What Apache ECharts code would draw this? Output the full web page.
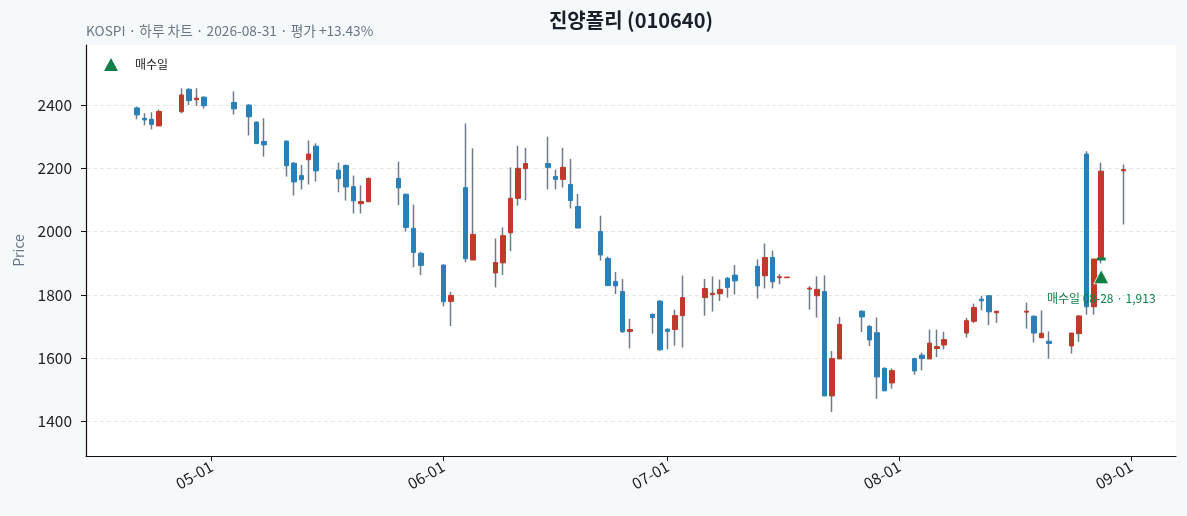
<!DOCTYPE html>
<html>
<head>
<meta charset="utf-8">
<script src="https://cdn.jsdelivr.net/npm/echarts@6/dist/echarts.min.js"></script>
<style>
  html, body { margin: 0; padding: 0; background: #f6f9fc; }
  #chart { width: 1187px; height: 516px; }
</style>
</head>
<body>
<div id="chart"></div>
<script>
// 일봉 데이터 (읽은 값)
var dates = [
  '2026-04-21', '2026-04-22', '2026-04-23', '2026-04-24', '2026-04-27', '2026-04-28', '2026-04-29', '2026-04-30',
  '2026-05-04', '2026-05-06', '2026-05-07', '2026-05-08', '2026-05-11', '2026-05-12', '2026-05-13', '2026-05-14',
  '2026-05-15', '2026-05-18', '2026-05-19', '2026-05-20', '2026-05-21', '2026-05-22', '2026-05-26', '2026-05-27',
  '2026-05-28', '2026-05-29', '2026-06-01', '2026-06-02', '2026-06-04', '2026-06-05', '2026-06-08', '2026-06-09',
  '2026-06-10', '2026-06-11', '2026-06-12', '2026-06-15', '2026-06-16', '2026-06-17', '2026-06-18', '2026-06-19',
  '2026-06-22', '2026-06-23', '2026-06-24', '2026-06-25', '2026-06-26', '2026-06-29', '2026-06-30', '2026-07-01',
  '2026-07-02', '2026-07-03', '2026-07-06', '2026-07-07', '2026-07-08', '2026-07-09', '2026-07-10', '2026-07-13',
  '2026-07-14', '2026-07-15', '2026-07-16', '2026-07-17', '2026-07-20', '2026-07-21', '2026-07-22', '2026-07-23',
  '2026-07-24', '2026-07-27', '2026-07-28', '2026-07-29', '2026-07-30', '2026-07-31', '2026-08-03', '2026-08-04',
  '2026-08-05', '2026-08-06', '2026-08-07', '2026-08-10', '2026-08-11', '2026-08-12', '2026-08-13', '2026-08-14',
  '2026-08-18', '2026-08-19', '2026-08-20', '2026-08-21', '2026-08-24', '2026-08-25', '2026-08-26', '2026-08-27',
  '2026-08-28', '2026-08-31'
];
var opens = [
  2391, 2358, 2355, 2334, 2379, 2450, 2417, 2425,
  2408, 2400, 2346, 2285, 2286, 2216, 2177, 2227,
  2270, 2194, 2209, 2142, 2088, 2094, 2168, 2118,
  2010, 1931, 1894, 1779, 2139, 1910, 1869, 1901,
  1996, 2105, 2199, 2215, 2174, 2165, 2149, 2079,
  2000, 1915, 1842, 1810, 1684, 1738, 1780, 1691,
  1690, 1734, 1791, 1800, 1803, 1852, 1862, 1890,
  1860, 1918, 1854, 1854, 1818, 1797, 1810, 1480,
  1597, 1748, 1700, 1680, 1567, 1521, 1598, 1609,
  1597, 1630, 1641, 1679, 1716, 1786, 1797, 1743,
  1745, 1732, 1664, 1653, 1638, 1677, 2245, 1762,
  1913, 2192
];
var closes = [
  2369, 2353, 2339, 2380, 2432, 2414, 2422, 2398,
  2388, 2363, 2278, 2274, 2208, 2157, 2164, 2245,
  2192, 2167, 2141, 2097, 2095, 2168, 2138, 2013,
  1934, 1893, 1778, 1798, 1914, 1991, 1902, 1987,
  2105, 2200, 2215, 2203, 2165, 2203, 2098, 2011,
  1926, 1829, 1828, 1683, 1690, 1728, 1626, 1684,
  1734, 1791, 1820, 1805, 1817, 1823, 1844, 1828,
  1918, 1841, 1857, 1856, 1821, 1817, 1480, 1598,
  1706, 1730, 1657, 1540, 1496, 1560, 1559, 1598,
  1647, 1636, 1658, 1718, 1760, 1781, 1746, 1748,
  1748, 1679, 1678, 1646, 1679, 1733, 1762, 1913,
  2191, 2196
];
var lows = [
  2355, 2336, 2323, 2334, 2374, 2400, 2397, 2389,
  2370, 2304, 2278, 2237, 2174, 2114, 2133, 2149,
  2158, 2124, 2098, 2057, 2057, 2094, 2084, 2000,
  1887, 1862, 1763, 1701, 1903, 1910, 1823, 1862,
  1938, 2082, 2099, 2133, 2133, 2139, 2073, 2011,
  1908, 1829, 1802, 1679, 1630, 1677, 1622, 1627,
  1639, 1633, 1734, 1747, 1780, 1791, 1801, 1788,
  1820, 1820, 1833, 1854, 1753, 1728, 1480, 1429,
  1597, 1682, 1638, 1471, 1496, 1503, 1547, 1561,
  1597, 1603, 1627, 1665, 1711, 1751, 1704, 1711,
  1693, 1649, 1664, 1598, 1614, 1651, 1737, 1737,
  1899, 2022
];
var highs = [
  2395, 2374, 2377, 2386, 2453, 2453, 2453, 2428,
  2443, 2403, 2349, 2358, 2288, 2220, 2211, 2288,
  2279, 2218, 2212, 2177, 2146, 2171, 2221, 2120,
  2085, 1936, 1896, 1809, 2342, 2263, 1978, 2013,
  2203, 2271, 2265, 2300, 2196, 2265, 2230, 2119,
  2050, 1921, 1872, 1850, 1724, 1741, 1783, 1694,
  1753, 1861, 1850, 1858, 1848, 1856, 1894, 1912,
  1962, 1940, 1865, 1856, 1827, 1858, 1861, 1622,
  1730, 1751, 1704, 1728, 1571, 1567, 1601, 1617,
  1690, 1690, 1683, 1727, 1772, 1797, 1797, 1748,
  1775, 1735, 1750, 1684, 1679, 1735, 2254, 1913,
  2218, 2212
];

// 매수 표시
var buyDate = '2026-08-28';
var buyPrice = 1913;
var buyMarkerY = 1857;

// 축 눈금
var yTicks = [1400, 1600, 1800, 2000, 2200, 2400];
var xTicks = ['2026-05-01', '2026-06-01', '2026-07-01', '2026-08-01', '2026-09-01'];

var titleText = '진양폴리 (010640)';
var subText = 'KOSPI · 하루 차트 · 2026-08-31 · 평가 +13.43%';

var FONT = 'Noto Sans CJK KR';
var UP = '#c0392b';
var DOWN = '#2980b9';
var WICK = '#6c7a89';
var GREEN = '#0e7f47';

function toTime(s) {
    var p = s.split('-');
    return new Date(+p[0], +p[1] - 1, +p[2]).getTime();
}
function pad(n) {
    return (n < 10 ? '0' : '') + n;
}

var wickData = [];
var bodyData = [];
for (var i = 0; i < dates.length; i++) {
    var t = toTime(dates[i]);
    wickData.push([t, opens[i], closes[i], lows[i], highs[i]]);
    bodyData.push([t, opens[i], closes[i], Math.min(opens[i], closes[i]), Math.max(opens[i], closes[i])]);
}

var xMin = toTime('2026-04-14') + 5 * 3600 * 1000;
var xMax = toTime('2026-09-07');

var chart = echarts.init(document.getElementById('chart'));
var option = {
    animation: false,
    backgroundColor: '#f6f9fc',
    textStyle: { fontFamily: FONT },
    graphic: [
        {
            type: 'text', x: 631, y: 10,
            style: { text: titleText, font: 'bold 20px "' + FONT + '"', fill: '#1b1f2a', align: 'center' }
        },
        {
            type: 'text', x: 86, y: 24,
            style: { text: subText, font: '13.7px "' + FONT + '"', fill: '#6b7685' }
        }
    ],
    grid: {
        left: 86, right: 11, top: 45, bottom: 60,
        show: true, backgroundColor: '#ffffff', borderWidth: 0
    },
    legend: {
        data: [{ name: '매수일', icon: 'triangle' }],
        left: 104, top: 58,
        padding: 0,
        itemWidth: 14, itemHeight: 13,
        itemStyle: { color: GREEN, borderWidth: 0 },
        textStyle: { fontFamily: FONT, fontSize: 12, color: '#222', padding: [0, 0, 0, 12] }
    },
    xAxis: {
        type: 'value',
        min: xMin,
        max: xMax,
        axisLine: { lineStyle: { color: '#111', width: 1.2 } },
        axisTick: { show: true, length: 5, lineStyle: { color: '#111' }, customValues: xTicks.map(toTime) },
        axisLabel: {
            customValues: xTicks.map(toTime),
            rotate: 30,
            fontSize: 15.5,
            color: '#222',
            margin: 9,
            formatter: function (v) {
                var d = new Date(v);
                return pad(d.getMonth() + 1) + '-' + pad(d.getDate());
            }
        },
        splitLine: { show: false }
    },
    yAxis: {
        type: 'value',
        min: 1290,
        max: 2590,
        name: 'Price',
        nameLocation: 'middle',
        nameGap: 60,
        nameTextStyle: { color: '#6b7685', fontSize: 14, fontFamily: FONT },
        axisLine: { show: true, lineStyle: { color: '#111', width: 1.2 } },
        axisTick: { show: true, length: 5, lineStyle: { color: '#111' }, customValues: yTicks },
        axisLabel: {
            customValues: yTicks, fontSize: 15.5, color: '#222', margin: 14,
            formatter: function (v) { return String(v); }
        },
        splitLine: { show: true, lineStyle: { color: '#e6e6e6', type: [4, 3], width: 1 } }
    },
    series: [
        {
            name: 'wick',
            type: 'candlestick',
            data: wickData,
            barWidth: 1,
            itemStyle: {
                color: WICK, color0: WICK,
                borderColor: WICK, borderColor0: WICK,
                borderWidth: 1.5
            },
            z: 2
        },
        {
            name: 'body',
            type: 'candlestick',
            data: bodyData,
            barWidth: 5,
            itemStyle: {
                color: UP, color0: DOWN,
                borderColor: UP, borderColor0: DOWN,
                borderWidth: 1
            },
            z: 3
        },
        {
            name: 'buyLevel',
            type: 'scatter',
            data: [[toTime(buyDate), buyPrice]],
            symbol: 'rect',
            symbolSize: [9, 3],
            itemStyle: { color: GREEN, opacity: 1 },
            z: 4
        },
        {
            name: '매수일',
            type: 'scatter',
            data: [[toTime(buyDate), buyMarkerY]],
            symbol: 'triangle',
            symbolSize: [15, 14],
            itemStyle: { color: GREEN, opacity: 1, borderColor: '#ffffff', borderWidth: 0.8 },
            label: {
                show: true,
                position: 'bottom',
                distance: 8,
                fontSize: 12,
                color: GREEN,
                fontFamily: FONT,
                formatter: function () {
                    return '매수일 ' + buyDate.slice(5) + ' · ' + buyPrice.toLocaleString('en-US');
                }
            },
            z: 5
        }
    ]
};
chart.setOption(option);
</script>
</body>
</html>
